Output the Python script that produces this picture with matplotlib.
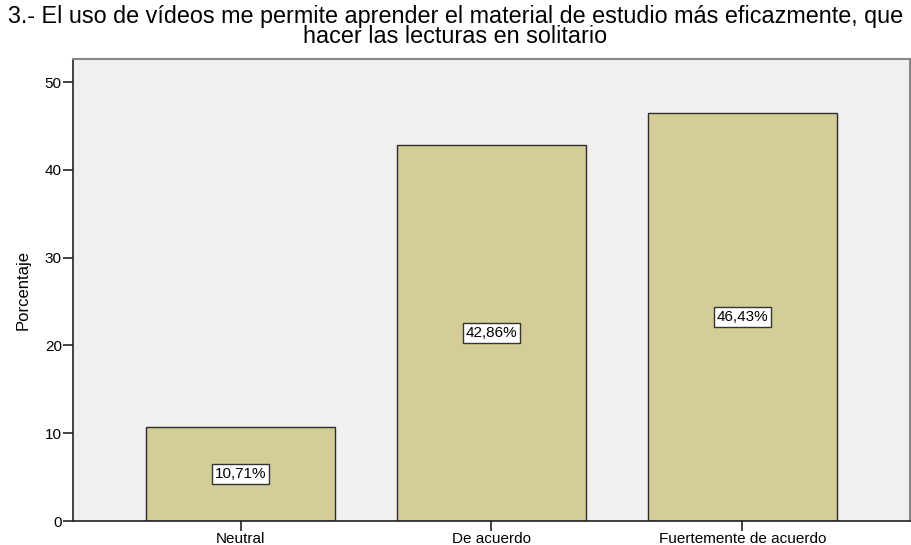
import matplotlib
matplotlib.use("Agg")
import matplotlib.pyplot as plt
from matplotlib import font_manager

categories = ["Neutral", "De acuerdo", "Fuertemente de acuerdo"]
values = [10.71, 42.86, 46.43]
labels = ["10,71%", "42,86%", "46,43%"]
yticks = [0, 10, 20, 30, 40, 50]
title = "3.- El uso de vídeos me permite aprender el material de estudio más eficazmente, que\nhacer las lecturas en solitario"

plt.rcParams['font.family'] = ['Liberation Sans', 'DejaVu Sans']

names = {f.name for f in font_manager.fontManager.ttflist}
narrow = 'Liberation Sans Narrow' if 'Liberation Sans Narrow' in names else 'Liberation Sans'
ylab_size = 13 if narrow == 'Liberation Sans Narrow' else 12

fig = plt.figure(figsize=(9.11, 5.45), dpi=100)
ax = fig.add_axes([0.080, 0.044, 0.919, 0.848])
ax.set_facecolor('#f0f0f0')

x = list(range(len(categories)))
ax.bar(x, values, width=0.75, color='#d3ce97', edgecolor='#2b2b2b', linewidth=1.0, zorder=2)
for xi, v, lab in zip(x, values, labels):
    ax.text(xi, v / 2, lab, ha='center', va='center', fontsize=11, zorder=3,
            bbox=dict(boxstyle='square,pad=0.2', facecolor='white', edgecolor='#333333', linewidth=1.0))

ax.set_xlim(-0.668, 2.668)
ax.set_ylim(0, 52.65)
ax.set_xticks(x)
ax.set_xticklabels(categories, fontsize=11)
ax.set_yticks(yticks)
ax.set_yticklabels([str(t) for t in yticks], fontsize=11)
ax.tick_params(axis='both', length=7, width=1.2, color='#222222', pad=1)

for s in ['left', 'bottom']:
    ax.spines[s].set_color('#222222')
    ax.spines[s].set_linewidth(1.2)
for s in ['top', 'right']:
    ax.spines[s].set_color('#888888')
    ax.spines[s].set_linewidth(1.5)

ax.set_ylabel("Porcentaje", fontsize=ylab_size, family=[narrow, 'Liberation Sans'], labelpad=10)

fig.text(0.5, 0.99, title, ha='center', va='top', fontsize=16.8, linespacing=0.8)

fig.savefig("out.png", dpi=100)
